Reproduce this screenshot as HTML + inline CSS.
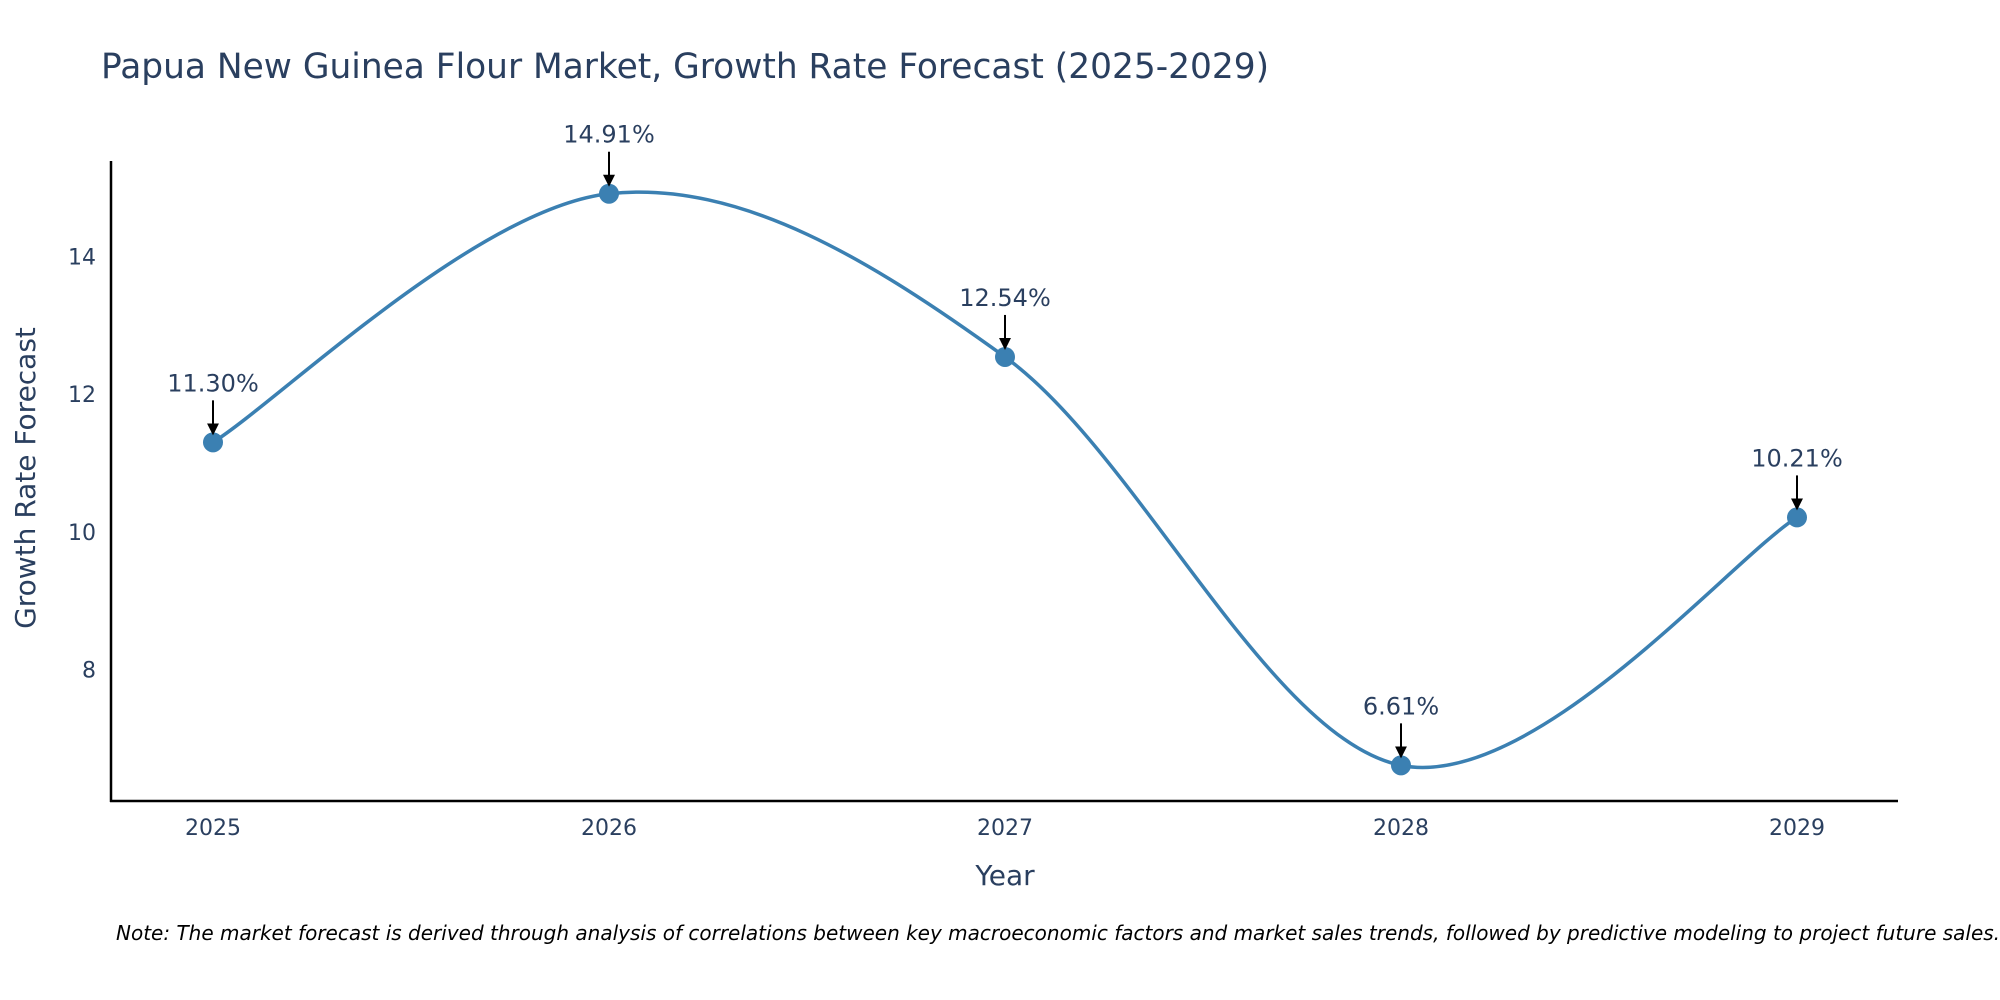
<!DOCTYPE html>
<html><head><meta charset="utf-8"><style>
html,body{margin:0;padding:0;background:#fff;width:2000px;height:1000px;overflow:hidden}
svg text{font-family:"DejaVu Sans","Liberation Sans",sans-serif;fill:#2a3f5f}
</style></head><body>
<svg id="chart" width="2000" height="1000" xmlns="http://www.w3.org/2000/svg">
<defs><marker id="ah" markerWidth="6" markerHeight="6" refX="5" refY="3" orient="auto" markerUnits="strokeWidth"><path d="M0,0 L6,3 L0,6 z" fill="#000"/></marker></defs>
<text x="101" y="78" font-size="34.4">Papua New Guinea Flour Market, Growth Rate Forecast (2025-2029)</text>
<line x1="111" y1="161" x2="111" y2="802" stroke="#000" stroke-width="2.5"/>
<line x1="110" y1="801" x2="1898" y2="801" stroke="#000" stroke-width="2.5"/>
<g id="yticks"></g><g id="xticks"></g>
<text x="0" y="0" font-size="28" text-anchor="middle" transform="translate(35,478) rotate(-90)">Growth Rate Forecast</text>
<text x="1005" y="885" font-size="28" text-anchor="middle">Year</text>
<path id="line" fill="none" stroke="#3b80b2" stroke-width="3.5"/>
<g id="points"></g>
<text x="116" y="940" font-size="20" font-style="italic" style="fill:#000">Note: The market forecast is derived through analysis of correlations between key macroeconomic factors and market sales trends, followed by predictive modeling to project future sales.</text>
</svg>
<script>
const years = ["2025","2026","2027","2028","2029"];
const values = [11.30, 14.91, 12.54, 6.61, 10.21];
const labels = ["11.30%","14.91%","12.54%","6.61%","10.21%"];
const yTicks = [8,10,12,14];
const NS="http://www.w3.org/2000/svg";
function xs(i){return 213+i*(1797-213)/(years.length-1);}
function ys(v){return 256.4+(14-v)*68.87;}
function mk(t,a,p){const e=document.createElementNS(NS,t);for(const k in a)e.setAttribute(k,a[k]);p.appendChild(e);return e;}
const yt=document.getElementById('yticks');
yTicks.forEach(v=>{const t=mk('text',{x:96,y:ys(v)+8,'font-size':22,'text-anchor':'end'},yt);t.textContent=v;

});
const xt=document.getElementById('xticks');
years.forEach((y,i)=>{const t=mk('text',{x:xs(i),y:835,'font-size':22,'text-anchor':'middle'},xt);t.textContent=y;

});
const P=values.map((v,i)=>[xs(i),ys(v)]);
let d='M'+P[0][0]+','+P[0][1];
for(let i=0;i<P.length-1;i++){const p0=P[Math.max(0,i-1)],p1=P[i],p2=P[i+1],p3=P[Math.min(P.length-1,i+2)];
const c1=[p1[0]+(p2[0]-p0[0])/6,p1[1]+(p2[1]-p0[1])/6],c2=[p2[0]-(p3[0]-p1[0])/6,p2[1]-(p3[1]-p1[1])/6];
d+=` C${c1[0]},${c1[1]} ${c2[0]},${c2[1]} ${p2[0]},${p2[1]}`;}
document.getElementById('line').setAttribute('d',d);
const pg=document.getElementById('points');
P.forEach((p,i)=>{const c=mk('circle',{cx:p[0],cy:p[1],r:10,fill:'#3b80b2'},pg);


const a=mk('line',{x1:p[0],y1:p[1]-42,x2:p[0],y2:p[1]-9,stroke:'#000','stroke-width':2,'marker-end':'url(#ah)'},pg);


const t=mk('text',{x:p[0],y:p[1]-51,'font-size':24,'text-anchor':'middle'},pg);t.textContent=labels[i];

});
</script>
</body></html>
